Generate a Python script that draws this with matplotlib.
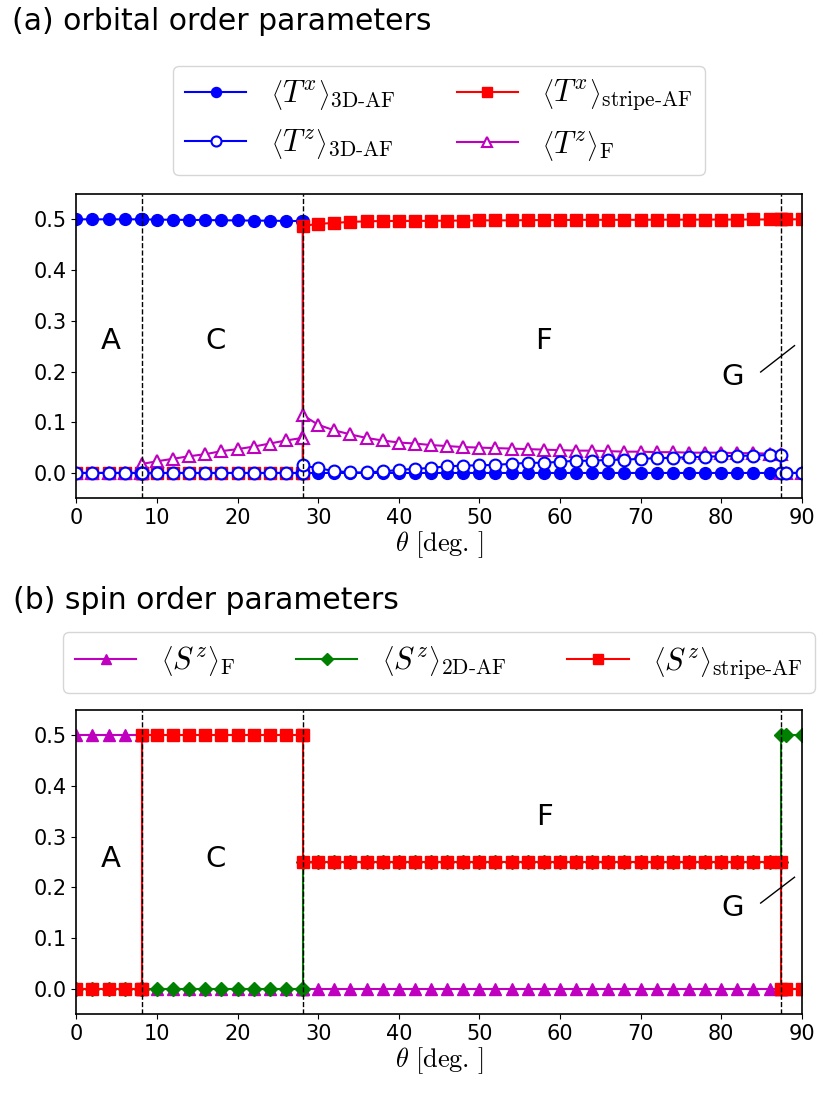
import numpy as np
import matplotlib
matplotlib.use('Agg')
import matplotlib.pyplot as plt

plt.rcParams['mathtext.fontset'] = 'cm'
plt.rcParams['font.family'] = ['DejaVu Sans']

# 相境界 (deg.)
b_AC, b_CF, b_FG = 8.2, 28.1, 87.4

# 各相の theta グリッド
th_A = [0, 2, 4, 6, 8, 8.2]
th_C = [8.2, 10, 12, 14, 16, 18, 20, 22, 24, 26, 28, 28.1]
th_F = [28.1, 30, 32, 34, 36, 38, 40, 42, 44, 46, 48, 50, 52, 54, 56, 58,
        60, 62, 64, 66, 68, 70, 72, 74, 76, 78, 80, 82, 84, 86, 87.4]
th_G = [87.4, 88, 90]

# (a) orbital order parameters
Tx_3DAF_A = [0.5, 0.5, 0.5, 0.5, 0.5, 0.5]
Tx_3DAF_C = [0.5, 0.4993, 0.4993, 0.4987, 0.4987, 0.498, 0.498, 0.4974,
             0.4974, 0.4967, 0.4967, 0.496]
Tx_3DAF_F = [0.0] * 31
Tx_3DAF_G = [0.0, 0.0, 0.0]

Tz_3DAF_A = [0.0] * 6
Tz_3DAF_C = [0.0] * 12
Tz_3DAF_F = [0.015, 0.009, 0.004, 0.001, 0.001, 0.003, 0.006, 0.008, 0.010,
             0.013, 0.0145, 0.015, 0.016, 0.018, 0.020, 0.020, 0.022, 0.024,
             0.024, 0.026, 0.026, 0.028, 0.029, 0.030, 0.031, 0.032, 0.033,
             0.034, 0.034, 0.0355, 0.036]
Tz_3DAF_G = [0.0, 0.0, 0.0]

Tx_str_A = [0.0] * 6
Tx_str_C = [0.0] * 12
Tx_str_F = [0.487, 0.491, 0.493, 0.495, 0.496, 0.4967, 0.4967, 0.497, 0.497,
            0.4975, 0.4975, 0.498, 0.498, 0.498, 0.4985, 0.4985, 0.4985,
            0.499, 0.499, 0.499, 0.499, 0.499, 0.4993, 0.4993, 0.4993,
            0.4995, 0.4995, 0.4995, 0.4997, 0.4997, 0.4997]
Tx_str_G = [0.5, 0.5, 0.5]

Tz_F_A = [0.0] * 6
Tz_F_C = [0.018, 0.023, 0.028, 0.033, 0.037, 0.043, 0.047, 0.052, 0.058,
          0.064, 0.069, 0.069]
Tz_F_F = [0.114, 0.095, 0.084, 0.076, 0.069, 0.064, 0.060, 0.058, 0.055,
          0.053, 0.051, 0.050, 0.049, 0.048, 0.047, 0.046, 0.045, 0.044,
          0.044, 0.043, 0.042, 0.042, 0.041, 0.041, 0.040, 0.040, 0.040,
          0.039, 0.039, 0.038, 0.038]
Tz_F_G = [0.0, 0.0, 0.0]

# (b) spin order parameters
Sz_F_A = [0.5] * 6
Sz_F_C = [0.0] * 12
Sz_F_F = [0.0] * 31
Sz_F_G = [0.0, 0.0, 0.0]

Sz_2D_A = [0.0] * 6
Sz_2D_C = [0.0] * 12
Sz_2D_F = [0.25] * 31
Sz_2D_G = [0.5, 0.5, 0.5]

Sz_str_A = [0.0] * 6
Sz_str_C = [0.5] * 12
Sz_str_F = [0.25] * 31
Sz_str_G = [0.0, 0.0, 0.0]

theta = th_A + th_C + th_F + th_G


def cat(a, c, f, g):
    return a + c + f + g


def lab(op, sub):
    # 山括弧を大きくするため空の下付きを入れる
    return r'$\left\langle %s^{%s}_{\,} \right\rangle_{\mathrm{%s}}$' % (op[0], op[1], sub)


fig = plt.figure(figsize=(8.3, 10.94), dpi=100)
ax1 = fig.add_axes([0.092, 0.5445, 0.874, 0.2782])
ax2 = fig.add_axes([0.092, 0.0731, 0.874, 0.2779])

lw, ms, mew = 1.5, 8.5, 1.5

# ---- (a)
l_x3, = ax1.plot(theta, cat(Tx_3DAF_A, Tx_3DAF_C, Tx_3DAF_F, Tx_3DAF_G), '-o',
                 color='b', lw=lw, ms=ms)
l_xs, = ax1.plot(theta, cat(Tx_str_A, Tx_str_C, Tx_str_F, Tx_str_G), '-s',
                 color='r', lw=lw, ms=ms)
l_zf, = ax1.plot(theta, cat(Tz_F_A, Tz_F_C, Tz_F_F, Tz_F_G), '-^',
                 color='m', mfc='white', mec='m', mew=mew, lw=lw, ms=ms)
l_z3, = ax1.plot(theta, cat(Tz_3DAF_A, Tz_3DAF_C, Tz_3DAF_F, Tz_3DAF_G), '-o',
                 color='b', mfc='white', mec='b', mew=mew, lw=lw, ms=ms)

ax1.legend([l_x3, l_z3, l_xs, l_zf],
           [lab('Tx', r'3D\text{-}AF'), lab('Tz', r'3D\text{-}AF'),
            lab('Tx', r'stripe\text{-}AF'), lab('Tz', 'F')],
           ncol=2, fontsize=22, loc='center', markerscale=0.85,
           bbox_to_anchor=(0.529, 0.890), bbox_transform=fig.transFigure)

# ---- (b)
l_sf, = ax2.plot(theta, cat(Sz_F_A, Sz_F_C, Sz_F_F, Sz_F_G), '-^',
                 color='m', lw=lw, ms=ms)
l_s2, = ax2.plot(theta, cat(Sz_2D_A, Sz_2D_C, Sz_2D_F, Sz_2D_G), '-D',
                 color='g', lw=lw, ms=7)
l_ss, = ax2.plot(theta, cat(Sz_str_A, Sz_str_C, Sz_str_F, Sz_str_G), '-s',
                 color='r', lw=lw, ms=ms)

ax2.legend([l_sf, l_s2, l_ss],
           [lab('Sz', 'F'), lab('Sz', r'2D\text{-}AF'),
            lab('Sz', r'stripe\text{-}AF')],
           ncol=3, fontsize=22, loc='center', markerscale=0.85,
           bbox_to_anchor=(0.529, 0.3944), bbox_transform=fig.transFigure)

for ax in (ax1, ax2):
    for b in (b_AC, b_CF, b_FG):
        ax.axvline(b, color='k', ls='--', lw=1, zorder=5)
    ax.set_xlim(0, 90)
    ax.set_ylim(-0.05, 0.55)
    ax.set_xticks(np.arange(0, 91, 10))
    ax.set_yticks(np.arange(0, 0.51, 0.1))
    ax.yaxis.set_major_formatter(matplotlib.ticker.FormatStrFormatter('%.1f'))
    ax.tick_params(labelsize=15)
    ax.set_xlabel(r'$\theta\ [\mathrm{deg.}\,]$', fontsize=19, labelpad=1)
    for s in ax.spines.values():
        s.set_linewidth(1.2)

# 相のラベル
ax1.text(4.3, 0.26, 'A', fontsize=21, ha='center', va='center')
ax1.text(17.3, 0.26, 'C', fontsize=21, ha='center', va='center')
ax1.text(58.0, 0.26, 'F', fontsize=21, ha='center', va='center')
ax1.text(81.4, 0.19, 'G', fontsize=21, ha='center', va='center')
ax1.plot([84.9, 89.1], [0.199, 0.251], color='k', lw=1)

ax2.text(4.3, 0.255, 'A', fontsize=21, ha='center', va='center')
ax2.text(17.3, 0.255, 'C', fontsize=21, ha='center', va='center')
ax2.text(58.1, 0.339, 'F', fontsize=21, ha='center', va='center')
ax2.text(81.4, 0.159, 'G', fontsize=21, ha='center', va='center')
ax2.plot([84.9, 89.1], [0.169, 0.22], color='k', lw=1)

fig.text(0.014, 0.980, '(a) orbital order parameters', fontsize=21.5, va='center')
fig.text(0.016, 0.451, '(b) spin order parameters', fontsize=21.5, va='center')

fig.savefig('out.png', dpi=100)
